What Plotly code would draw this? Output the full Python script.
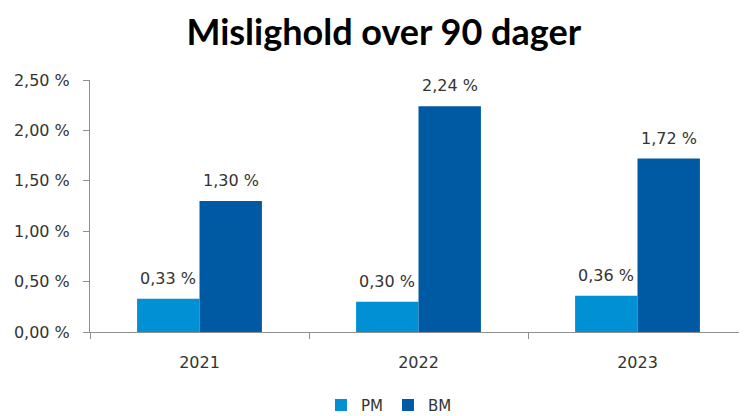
import plotly.graph_objects as go

years = ["2021", "2022", "2023"]
pm = [0.33, 0.30, 0.36]
bm = [1.30, 2.24, 1.72]
y_ticks = [0, 0.5, 1.0, 1.5, 2.0, 2.5]
y_tick_labels = ["0,00 %", "0,50 %", "1,00 %", "1,50 %", "2,00 %", "2,50 %"]

def fmt(v):
    return f"{v:.2f}".replace(".", ",") + " %"

font_fam = "DejaVu Sans, Verdana, sans-serif"
txt_col = "#333333"
half_bar_px = 31.2

fig = go.Figure()
fig.add_trace(go.Bar(
    name="PM", x=years, y=pm, marker=dict(color="#0090D3", line=dict(width=0)),
))
fig.add_trace(go.Bar(
    name="BM", x=years, y=bm, marker=dict(color="#005AA3", line=dict(width=0)),
))

# category axes place annotations by category index
for series, shift in ((pm, -half_bar_px), (bm, half_bar_px)):
    for idx, v in enumerate(series):
        fig.add_annotation(
            x=idx, y=v, xref="x", yref="y", text=fmt(v), showarrow=False,
            xanchor="center", yanchor="bottom", xshift=shift, yshift=9,
            font=dict(family=font_fam, size=16, color=txt_col),
        )

fig.update_layout(
    width=747, height=416,
    margin=dict(l=82, r=8, t=72, b=92, autoexpand=False),
    paper_bgcolor="white", plot_bgcolor="white",
    barmode="group", bargap=0.43, bargroupgap=0,
    title=dict(text="<b>Mislighold over 90 dager</b>", x=0.503, xanchor="center",
               y=0.942, yanchor="middle",
               font=dict(family="Lato, Open Sans, sans-serif", size=36, color="black")),
    showlegend=True,
    legend=dict(orientation="h", xref="container", x=0.51, xanchor="center",
                yref="container", y=0.045, yanchor="middle",
                font=dict(family=font_fam, size=15, color=txt_col),
                itemwidth=30, tracegroupgap=0),
)
fig.update_xaxes(
    type="category", range=[-0.5, len(years) - 0.5],
    showline=True, linecolor="#909090", linewidth=1,
    ticks="outside", tickson="boundaries", ticklen=6, tickcolor="#909090",
    tickfont=dict(family=font_fam, size=16, color=txt_col),
    ticklabelstandoff=16, automargin=False,
    showgrid=False,
)
fig.update_yaxes(
    range=[0, 2.5], tickvals=y_ticks, ticktext=y_tick_labels,
    showline=True, linecolor="#909090", linewidth=1,
    ticks="outside", ticklen=6, tickcolor="#909090",
    tickfont=dict(family=font_fam, size=16, color=txt_col),
    ticklabelstandoff=10, automargin=False,
    showgrid=False, zeroline=False,
)

fig.write_html("out.html")
